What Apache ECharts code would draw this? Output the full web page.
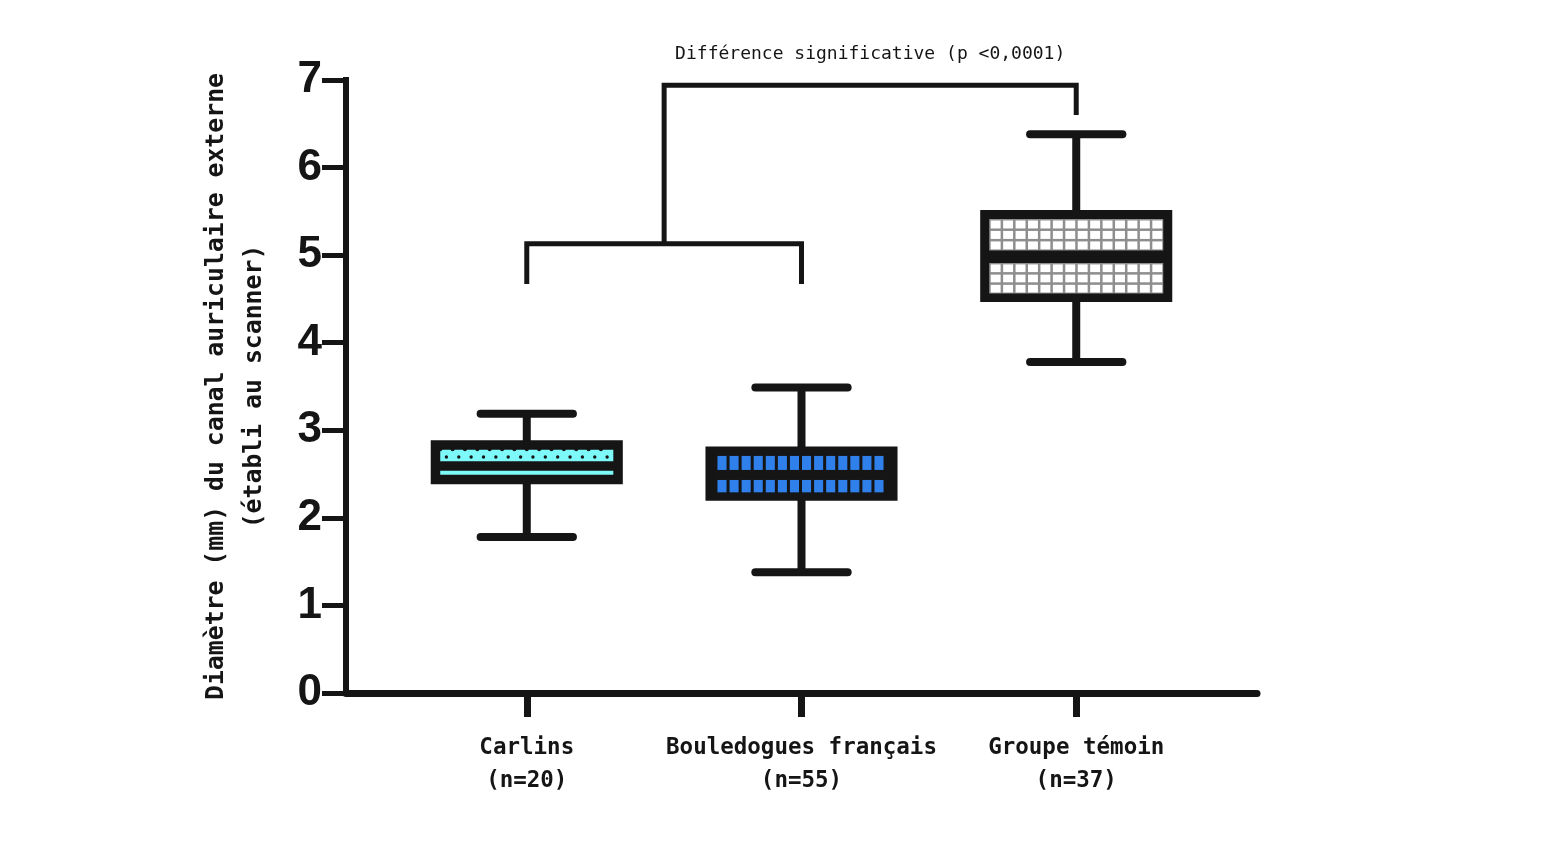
<!DOCTYPE html>
<html><head><meta charset="utf-8">
<script src="https://cdn.jsdelivr.net/npm/echarts@6/dist/echarts.min.js"></script>
<style>html,body{margin:0;padding:0;background:#fff}#chart{width:1551px;height:841px}</style>
</head><body><div id="chart"></div>
<script>
const categories = ['Carlins', 'Bouledogues français', 'Groupe témoin'];
const sampleSizes = ['(n=20)', '(n=55)', '(n=37)'];
const categoryPositions = [1, 2, 3];
const whiskerMin = [1.78, 1.38, 3.78];
const quartile1 = [2.43, 2.24, 4.51];
const medians = [2.60, 2.49, 4.98];
const quartile3 = [2.84, 2.77, 5.47];
const whiskerMax = [3.19, 3.49, 6.38];
const fillPatterns = ['cyan', 'blue', 'grid'];
const yTickValues = [0, 1, 2, 3, 4, 5, 6, 7];
const lowerBracket = [[1, 4.67], [1, 5.13], [2, 5.13], [2, 4.67]];
const upperBracket = [[1.5, 5.13], [1.5, 6.94], [3, 6.94], [3, 6.60]];
const significanceText = 'Différence significative (p <0,0001)';
const yAxisTitle = 'Diamètre (mm) du canal auriculaire externe\n(établi au scanner)';

const MONO = '"DejaVu Sans Mono", monospace';
const INK = '#151515';

const boxData = categoryPositions.map((x, i) => [x, whiskerMin[i], quartile1[i], medians[i], quartile3[i], whiskerMax[i]]);

function renderBox(params, api) {
  const i = params.dataIndex;
  const xv = api.value(0);
  const cx = api.coord([xv, api.value(1)])[0];
  const yMin = api.coord([xv, api.value(1)])[1];
  const yQ1 = api.coord([xv, api.value(2)])[1];
  const yMed = api.coord([xv, api.value(3)])[1];
  const yQ3 = api.coord([xv, api.value(4)])[1];
  const yMax = api.coord([xv, api.value(5)])[1];
  const unit = api.size([1, 0])[0];
  const halfBox = unit * 0.335;
  const halfCap = unit * 0.168;
  const lw = 8;
  const ch = [];
  ch.push({type: 'line', shape: {x1: cx, y1: yQ3, x2: cx, y2: yMax}, style: {stroke: INK, lineWidth: lw}});
  ch.push({type: 'line', shape: {x1: cx, y1: yQ1, x2: cx, y2: yMin}, style: {stroke: INK, lineWidth: lw}});
  ch.push({type: 'line', shape: {x1: cx - halfCap, y1: yMax, x2: cx + halfCap, y2: yMax}, style: {stroke: INK, lineWidth: lw, lineCap: 'round'}});
  ch.push({type: 'line', shape: {x1: cx - halfCap, y1: yMin, x2: cx + halfCap, y2: yMin}, style: {stroke: INK, lineWidth: lw, lineCap: 'round'}});
  ch.push({type: 'rect', shape: {x: cx - halfBox, y: yQ3, width: 2 * halfBox, height: yQ1 - yQ3}, style: {fill: INK, stroke: INK, lineWidth: lw}});
  const pat = fillPatterns[i];
  if (pat === 'cyan') {
    const l = cx - halfBox + 5.5, r = cx + halfBox - 5.5;
    const top = yQ3 + 5.5, bot = yMed - 4;
    ch.push({type: 'rect', shape: {x: l, y: top, width: r - l, height: bot - top}, style: {fill: '#7DF9FA'}});
    const step = (r - l) / 14;
    for (let k = 0; k < 14; k++) {
      ch.push({type: 'circle', shape: {cx: l + step * (k + 0.5), cy: (top + bot) / 2 + 1.5, r: 1.7}, style: {fill: INK}});
      ch.push({type: 'circle', shape: {cx: l + step * k, cy: top - 0.5, r: 2}, style: {fill: INK}});
    }
    const ly = (yMed + yQ1) / 2;
    ch.push({type: 'rect', shape: {x: l, y: ly - 2, width: r - l, height: 4}, style: {fill: '#7DF9FA'}});
  } else if (pat === 'blue') {
    const l = cx - halfBox + 8, r = cx + halfBox - 7;
    const rows = [[yQ3 + 5.5, yMed - 5], [yMed + 5, yQ1 - 4.5]];
    const n = 14, step = (r - l) / n;
    rows.forEach(([t, b]) => {
      for (let k = 0; k < n; k++) {
        ch.push({type: 'rect', shape: {x: l + step * k, y: t, width: step - 3, height: b - t}, style: {fill: '#2F80EA'}});
      }
    });
  } else {
    const l = cx - halfBox + 5, r = cx + halfBox - 5;
    const rows = [[yQ3 + 5, yMed - 6.5], [yMed + 6, yQ1 - 4.5]];
    const n = 14, step = (r - l) / n;
    rows.forEach(([t, b]) => {
      ch.push({type: 'rect', shape: {x: l, y: t, width: r - l, height: b - t}, style: {fill: '#8E8E8E'}});
      const rh = (b - t) / 3;
      for (let rr = 0; rr < 3; rr++) {
        for (let k = 0; k < n; k++) {
          ch.push({type: 'rect', shape: {x: l + step * k + 1.5, y: t + rh * rr + 1.5, width: step - 2.5, height: rh - 2.5}, style: {fill: '#FFFFFF'}});
        }
      }
    });
  }
  return {type: 'group', children: ch};
}

const chart = echarts.init(document.getElementById('chart'), null, {renderer: 'canvas'});
chart.setOption({
  backgroundColor: '#fff',
  animation: false,
  grid: {left: 346, right: 294, top: 80, bottom: 148},
  xAxis: {
    type: 'value', min: 0.342, max: 3.658,
    splitLine: {show: false},
    axisLine: {show: true, lineStyle: {color: INK, width: 7}},
    axisTick: {show: true, length: 24, customValues: categoryPositions, lineStyle: {color: INK, width: 7}},
    axisLabel: {
      customValues: categoryPositions, margin: 39,
      formatter: v => categories[Math.round(v) - 1] + '\n' + sampleSizes[Math.round(v) - 1],
      fontFamily: MONO, fontWeight: 'bold', fontSize: 22.5, lineHeight: 33, color: INK
    }
  },
  yAxis: {
    type: 'value', min: 0, max: 7, interval: 1,
    splitLine: {show: false},
    axisLine: {show: true, lineStyle: {color: INK, width: 6, cap: 'square'}},
    axisTick: {show: true, length: 24, lineStyle: {color: INK, width: 5}},
    axisLabel: {margin: 24, fontFamily: '"Liberation Sans", Arial, sans-serif', fontWeight: 'bold', fontSize: 44, color: INK,
      formatter: v => yTickValues.includes(v) ? String(v) : ''},
    name: yAxisTitle, nameLocation: 'middle', nameRotate: 90, nameGap: 72,
    nameTextStyle: {fontFamily: MONO, fontWeight: 'bold', fontSize: 24.8, lineHeight: 38, color: INK, align: 'center'}
  },
  series: [
    {type: 'custom', renderItem: renderBox, data: boxData, encode: {x: 0, y: [1, 2, 3, 4, 5]}, clip: false},
    {type: 'line', data: lowerBracket, symbol: 'none', lineStyle: {color: INK, width: 5, join: 'miter'}},
    {type: 'line', data: upperBracket, symbol: 'none', lineStyle: {color: INK, width: 5, join: 'miter'}}
  ]
});
const tp = chart.convertToPixel({gridIndex: 0}, [2.25, 7.29]);
chart.setOption({graphic: [{type: 'text', x: tp[0], y: tp[1], style: {text: significanceText, fontFamily: MONO, fontSize: 18, fill: INK, textAlign: 'center', textVerticalAlign: 'middle'}}]});
</script></body></html>
